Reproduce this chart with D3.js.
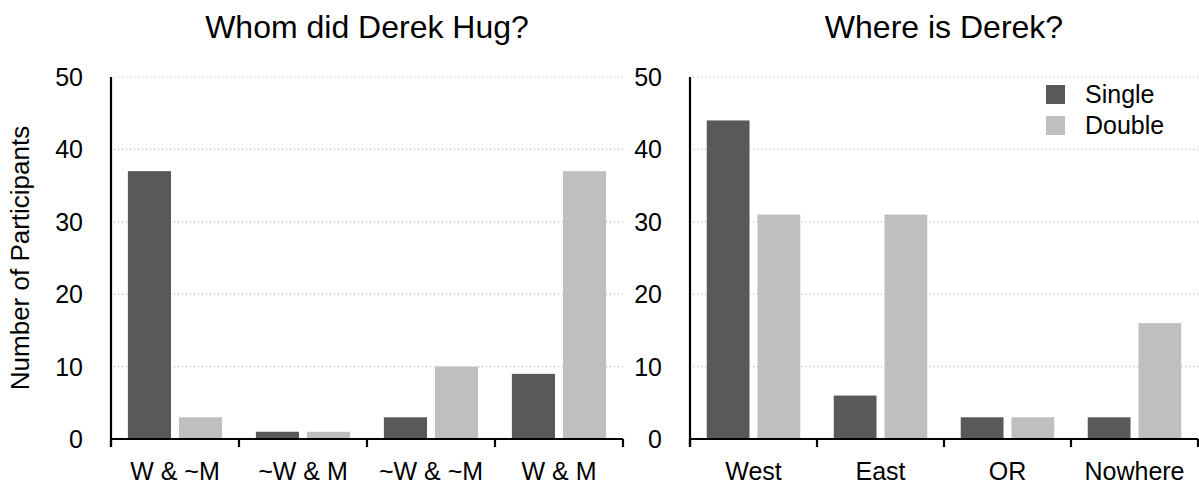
<!DOCTYPE html>
<meta charset="utf-8">
<style>
body { margin: 0; background: #fff; }
text { font-family: "Liberation Sans", Arial, Helvetica, sans-serif; fill: #000; }
.grid line { stroke: #bdbdbd; stroke-width: 1.2; stroke-dasharray: 1.2,2.8; }
</style>
<svg width="1199" height="487"></svg>
<script src="https://d3js.org/d3.v7.min.js"></script>
<script>

var series = ["Single", "Double"];
var colors = ["#595959", "#bfbfbf"];
var yTicks = [0, 10, 20, 30, 40, 50];

var hugCategories = ["W & ~M", "~W & M", "~W & ~M", "W & M"];
var hugSingle = [37, 1, 3, 9];
var hugDouble = [3, 1, 10, 37];

var whereCategories = ["West", "East", "OR", "Nowhere"];
var whereSingle = [44, 6, 3, 3];
var whereDouble = [31, 31, 3, 16];

var svg = d3.select("svg");

var y = d3.scaleLinear().domain([0, 50]).range([439, 77]);

function panel(title, cats, single, dbl, x0, x1, showLegend) {
  var rows = cats.map(function(c, i) { return { cat: c, values: [single[i], dbl[i]] }; });

  var xb = d3.scaleBand().domain(cats).range([x0, x1]);
  var xs = d3.scaleBand().domain(series).range([0, xb.bandwidth()])
      .paddingInner(0.157).paddingOuter(0.33);

  var g = svg.append("g");

  // dotted gridlines
  g.append("g").attr("class", "grid")
    .selectAll("line")
    .data(yTicks.filter(function(d) { return d > 0; }))
    .enter().append("line")
      .attr("x1", x0 + 3).attr("x2", x1)
      .attr("y1", function(d) { return y(d); })
      .attr("y2", function(d) { return y(d); });

  // bars
  g.selectAll(".cat")
    .data(rows)
    .enter().append("g")
      .attr("transform", function(d) { return "translate(" + xb(d.cat) + ",0)"; })
    .selectAll("rect")
    .data(function(d) { return d.values.map(function(v, i) { return { key: series[i], v: v, i: i }; }); })
    .enter().append("rect")
      .attr("x", function(d) { return xs(d.key); })
      .attr("width", xs.bandwidth())
      .attr("y", function(d) { return y(d.v); })
      .attr("height", function(d) { return y(0) - y(d.v); })
      .attr("fill", function(d) { return colors[d.i]; });

  // y axis line + labels
  g.append("line")
      .attr("x1", x0).attr("x2", x0)
      .attr("y1", y(50)).attr("y2", y(0) + 8)
      .attr("stroke", "#000").attr("stroke-width", 2.2);

  g.append("g").selectAll("text")
    .data(yTicks)
    .enter().append("text")
      .attr("x", x0 - 28)
      .attr("y", function(d) { return y(d); })
      .attr("dy", "0.36em")
      .attr("text-anchor", "end")
      .style("font-size", "25px")
      .text(function(d) { return d; });

  // x axis: line with ticks at band edges
  g.append("line")
      .attr("x1", x0).attr("x2", x1)
      .attr("y1", y(0)).attr("y2", y(0))
      .attr("stroke", "#000").attr("stroke-width", 2.2);

  var edges = cats.map(function(c) { return xb(c); }).concat([x1]);
  g.append("g").selectAll("line")
    .data(edges)
    .enter().append("line")
      .attr("x1", function(d) { return d; }).attr("x2", function(d) { return d; })
      .attr("y1", y(0)).attr("y2", y(0) + 8)
      .attr("stroke", "#000").attr("stroke-width", 2.2);

  g.append("g").selectAll("text")
    .data(cats)
    .enter().append("text")
      .attr("x", function(d) { return xb(d) + xb.bandwidth() / 2; })
      .attr("y", 480)
      .attr("text-anchor", "middle")
      .style("font-size", "25px")
      .text(function(d) { return d; });

  g.append("text")
      .attr("x", (x0 + x1) / 2)
      .attr("y", 38)
      .attr("text-anchor", "middle")
      .style("font-size", "32px")
      .text(title);

  if (showLegend) {
    var leg = g.append("g").selectAll("g")
      .data(series)
      .enter().append("g")
        .attr("transform", function(d, i) { return "translate(1046," + (85 + i * 31) + ")"; });
    leg.append("rect")
        .attr("width", 19).attr("height", 19)
        .attr("fill", function(d, i) { return colors[i]; });
    leg.append("text")
        .attr("x", 39).attr("y", 18)
        .style("font-size", "25px")
        .text(function(d) { return d; });
  }
}

panel("Whom did Derek Hug?", hugCategories, hugSingle, hugDouble, 111, 623, false);
panel("Where is Derek?", whereCategories, whereSingle, whereDouble, 690, 1198, true);

svg.append("text")
    .attr("transform", "translate(29,258) rotate(-90)")
    .attr("text-anchor", "middle")
    .style("font-size", "26px")
    .text("Number of Participants");

</script>
